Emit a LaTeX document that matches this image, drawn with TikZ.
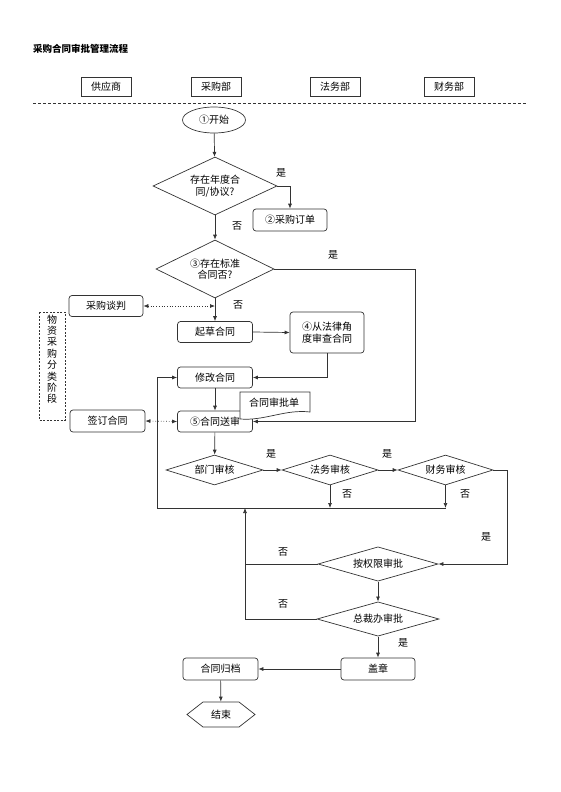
\documentclass[tikz,border=0pt]{standalone}
\usepackage{fontspec}
\setmainfont{Noto Sans CJK SC}
\usetikzlibrary{shapes.geometric,shapes.symbols,arrows.meta}
\begin{document}
\begin{tikzpicture}[x=1pt,y=-1pt,font=\fontsize{10}{11.5}\selectfont,
	>={Latex[length=5pt,width=4pt]},
	line/.style={draw=black!80,line width=0.7pt},
	box/.style={line,rectangle,rounded corners=3pt,minimum width=75pt,minimum height=21pt,inner sep=1pt,align=center},
	head/.style={line,rectangle,minimum width=50pt,minimum height=19pt},
	dec/.style={line,diamond,aspect=2,inner sep=0pt,align=center},
	tag/.style={inner sep=0pt}]
	\useasboundingbox (0,0) rectangle (560,792);
	\node[tag,anchor=west,font=\fontsize{9.5}{11}\selectfont\bfseries] (title) at (33,49) {采购合同审批管理流程};
	\node[head] (h1) at (106,86.5) {供应商};
	\node[head] (h2) at (216,86.5) {采购部};
	\node[head] (h3) at (335,86.5) {法务部};
	\node[head] (h4) at (449,86.5) {财务部};
	\draw[line,dash pattern=on 3pt off 2pt] (33,103) -- (527,103);
	\node[line,ellipse,minimum width=63pt,minimum height=26pt,inner sep=0pt] (start) at (214,120) {①开始};
	\node[dec,minimum width=124pt,minimum height=58pt] (d1) at (215,186) {存在年度合\\同/协议?};
	\node[box,minimum width=74pt,minimum height=22pt] (order) at (290,220) {②采购订单};
	\node[dec,minimum width=118pt,minimum height=58pt] (d2) at (215,269) {③存在标准\\合同否?};
	\node[box,minimum width=74pt] (nego) at (106,306) {采购谈判};
	\node[box] (draft) at (215,332) {起草合同};
	\node[box,minimum width=74pt,minimum height=41pt] (review) at (327,332.5) {④从法律角\\度审查合同};
	\node[box] (modify) at (215,377.5) {修改合同};
	\node[box] (submit) at (215,421.5) {⑤合同送审};
	\node[box,minimum height=22pt] (sign) at (107.5,421) {签订合同};
	\draw[line,fill=white] (240,392) -- (310,392) -- (310,412) .. controls (285,409) and (265,421) .. (240,419) -- cycle;
	\node[tag] (form) at (274,402.5) {合同审批单};
	\draw[line,dash pattern=on 2pt off 1.5pt] (39,312) rectangle (65,420);
	\node[tag,anchor=north,align=center,font=\fontsize{10}{11.4}\selectfont] (phase) at (52,314.5) {物\\资\\采\\购\\分\\类\\阶\\段};
	\node[dec,minimum width=97pt,minimum height=30pt] (dept) at (214.5,470) {部门审核};
	\node[dec,minimum width=96pt,minimum height=30pt] (legal) at (330,470) {法务审核};
	\node[dec,minimum width=95pt,minimum height=30pt] (fin) at (445.5,470) {财务审核};
	\node[dec,minimum width=120pt,minimum height=30pt] (auth) at (378,564) {按权限审批};
	\node[dec,minimum width=122pt,minimum height=30pt] (ceo) at (378,619) {总裁办审批};
	\node[box,minimum width=74pt,minimum height=22pt] (seal) at (378,669) {盖章};
	\node[box,minimum height=22pt] (archive) at (220.5,669) {合同归档};
	\node[line,signal,signal to=west and east,signal pointer angle=76,minimum width=68pt,minimum height=25pt,inner sep=0pt] (stop) at (221,714.5) {结束};
	\coordinate (j1) at (215,306);
	\coordinate (b1) at (157,508);
	\coordinate (b2) at (245,508);
	\draw[line,->] (start) -- (d1);
	\draw[line,->] (d1.east) -| (order.north);
	\draw[line,->] (d1.south) -- (d2.north);
	\draw[line,->] (d2.south) -- (draft.north);
	\draw[line,dotted,<->] (nego.east) -- (j1);
	\draw[line,->] (draft.east) -- (review.west);
	\draw[line,->] (review.south) |- (modify.east);
	\draw[line,->] (modify) -- (submit);
	\draw[line,->] (d2.east) -- ++(141,0) |- (submit.east);
	\draw[line,dotted,<->] (sign.east) -- (submit.west);
	\draw[line,->] (submit) -- (dept);
	\draw[line,->] (dept.east) -- (legal.west);
	\draw[line,->] (legal.east) -- (fin.west);
	\draw[line,->] (legal.south) -- (legal.south |- b1);
	\draw[line,->] (fin.south) -- (fin.south |- b1);
	\draw[line,->] (fin.south |- b1) -- (b1) |- (modify.west);
	\draw[line,->] (fin.east) -- ++(14,0) |- (auth.east);
	\draw[line] (auth.west) -- (auth.west -| b2);
	\draw[line,->] (ceo.west) -| (b2);
	\draw[line,->] (auth) -- (ceo);
	\draw[line,->] (ceo) -- (seal);
	\draw[line,->] (seal) -- (archive);
	\draw[line,->] (archive) -- (stop);
	\node[tag] (y1) at (281,173) {是};
	\node[tag] (n1) at (237,226) {否};
	\node[tag] (y2) at (333,255) {是};
	\node[tag] (n2) at (238,305) {否};
	\node[tag] (y3) at (271,454) {是};
	\node[tag] (y4) at (387,454) {是};
	\node[tag] (n3) at (347,494) {否};
	\node[tag] (n4) at (465,494) {否};
	\node[tag] (y5) at (486,537) {是};
	\node[tag] (n5) at (283,552) {否};
	\node[tag] (n6) at (283,604) {否};
	\node[tag] (y6) at (403,643) {是};
\end{tikzpicture}
\end{document}
